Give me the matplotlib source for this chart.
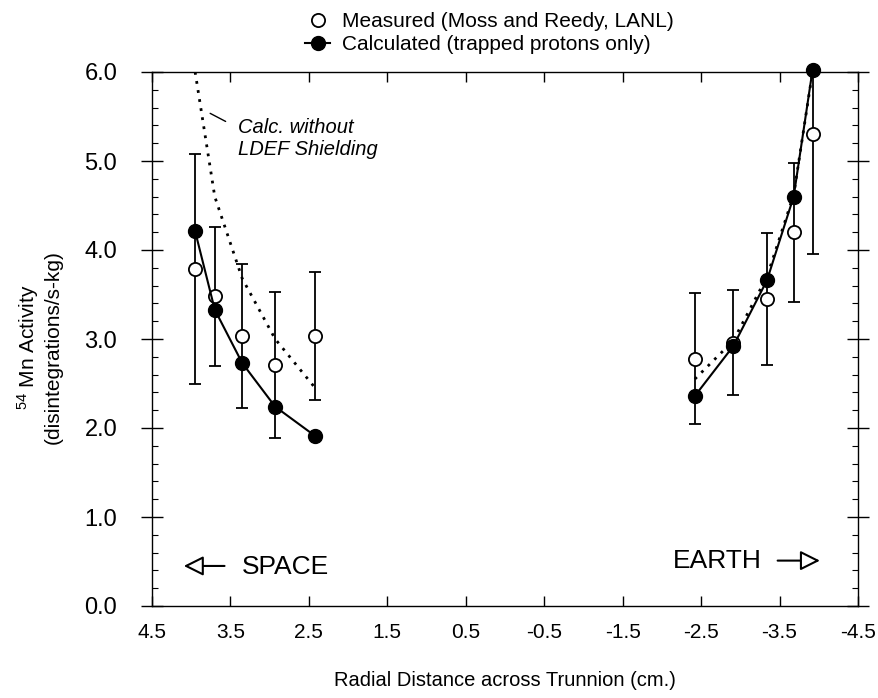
import numpy as np
import matplotlib
matplotlib.use("Agg")
import matplotlib.pyplot as plt
from matplotlib.lines import Line2D
from matplotlib.ticker import FixedLocator, MultipleLocator, FormatStrFormatter

plt.rcParams['font.family'] = ['Liberation Sans', 'DejaVu Sans']
plt.rcParams['mathtext.fontset'] = 'custom'
plt.rcParams['mathtext.rm'] = 'Liberation Sans'
plt.rcParams['mathtext.it'] = 'Liberation Sans:italic'
plt.rcParams['mathtext.bf'] = 'Liberation Sans:bold'
plt.rcParams['axes.unicode_minus'] = False

# radial positions (cm), space side and earth side
x_space = [3.95, 3.70, 3.35, 2.93, 2.42]
x_earth = [-2.42, -2.91, -3.34, -3.68, -3.92]

# measured (Moss and Reedy, LANL) with error bars
meas_space = [3.79, 3.48, 3.03, 2.71, 3.03]
err_space = [1.29, 0.78, 0.81, 0.82, 0.72]
meas_earth = [2.78, 2.96, 3.45, 4.20, 5.30]
err_earth = [0.74, 0.59, 0.74, 0.78, 1.34]

# calculated, trapped protons only
calc_space = [4.21, 3.33, 2.73, 2.24, 1.91]
calc_earth = [2.36, 2.92, 3.66, 4.60, 6.02]

# calculated without LDEF shielding
noshield_space = [6.00, 4.60, 3.68, 3.00, 2.45]
noshield_earth = [2.55, 2.98, 3.70, 4.62, 6.00]

x_ticks = [4.5, 3.5, 2.5, 1.5, 0.5, -0.5, -1.5, -2.5, -3.5, -4.5]

fig = plt.figure(figsize=(8.79, 6.98), dpi=100)
ax = fig.add_axes([152/879, 1-606/698, (858-152)/879, (606-72)/698])

for xs, ms_, es_ in [(x_space, meas_space, err_space), (x_earth, meas_earth, err_earth)]:
    ax.errorbar(xs, ms_, yerr=es_, fmt='o', mfc='white', mec='black', ms=9.5, mew=1.3,
                ecolor='black', elinewidth=1.3, capsize=4.5, capthick=1.3, zorder=3)

for xs, ys in [(x_space, noshield_space), (x_earth, noshield_earth)]:
    ax.plot(xs, ys, color='black', lw=2.0, ls=(0, (1, 2.3)), zorder=2)

for xs, ys in [(x_space, calc_space), (x_earth, calc_earth)]:
    ax.plot(xs, ys, '-o', color='black', ms=10, lw=1.5, clip_on=False, zorder=4)

ax.set_xlim(4.5, -4.5)
ax.set_ylim(0, 6)
ax.xaxis.set_major_locator(FixedLocator(x_ticks))
ax.xaxis.set_major_formatter(FormatStrFormatter('%.1f'))
ax.yaxis.set_major_locator(MultipleLocator(1))
ax.yaxis.set_minor_locator(MultipleLocator(0.2))
ax.yaxis.set_major_formatter(FormatStrFormatter('%.1f'))

ax.tick_params(axis='y', which='major', direction='inout', length=16, width=1,
               right=True, labelsize=17, pad=17)
ax.tick_params(axis='y', which='minor', direction='in', length=4, width=0.8, right=True)
ax.tick_params(axis='x', which='major', direction='in', length=7, width=1,
               top=True, labelsize=15, pad=12)
for s in ax.spines.values():
    s.set_linewidth(1.0)

ax.set_xlabel('Radial Distance across Trunnion (cm.)', fontsize=14.5, labelpad=21)
fig.text(39/879, 1-347/698, '$^{54}$ Mn Activity\n(disintegrations/s-kg)', rotation=90,
         ha='center', va='center', multialignment='center', fontsize=15)

# annotations
ax.text(3.40, 5.25, 'Calc. without\nLDEF Shielding', style='italic', fontsize=14.5,
        ha='left', va='center', linespacing=1.2)
ax.annotate('', xy=(3.79, 5.55), xytext=(3.53, 5.43),
            arrowprops=dict(arrowstyle='-', lw=1, color='black'))

ax.text(3.35, 0.44, 'SPACE', fontsize=19, ha='left', va='center')
ax.annotate('', xy=(4.13, 0.45), xytext=(3.54, 0.45),
            arrowprops=dict(arrowstyle='-|>,head_length=0.5,head_width=0.25',
                            fc='white', ec='black', lw=1.5, mutation_scale=24))
ax.text(-2.14, 0.50, 'EARTH', fontsize=19, ha='left', va='center')
ax.annotate('', xy=(-4.05, 0.51), xytext=(-3.44, 0.51),
            arrowprops=dict(arrowstyle='-|>,head_length=0.5,head_width=0.25',
                            fc='white', ec='black', lw=1.5, mutation_scale=24))

handles = [
    Line2D([], [], marker='o', ls='none', mfc='white', mec='black', ms=9.5, mew=1.3),
    Line2D([], [], marker='o', ls='-', color='black', ms=10, lw=1.5),
]
labels = ['Measured (Moss and Reedy, LANL)', 'Calculated (trapped protons only)']
fig.legend(handles, labels, loc='upper left', bbox_to_anchor=(305/879, 1-12/698),
           frameon=False, fontsize=15, handlelength=1.2, handletextpad=0.6,
           labelspacing=0.2, borderpad=0, borderaxespad=0)

fig.savefig('out.png', dpi=100)
